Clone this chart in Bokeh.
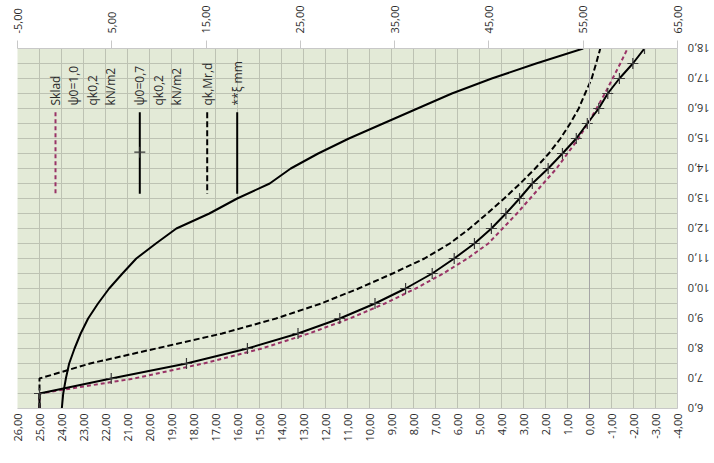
import math
from bokeh.plotting import figure
from bokeh.models import Range1d, LinearAxis, FixedTicker, ColumnDataSource, Span
from bokeh.core.properties import value
from bokeh.embed import file_html
from bokeh.resources import INLINE

# Span [m] along the vertical direction
span_m = [6.0, 6.5, 7.0, 7.5, 8.0, 8.5, 9.0, 9.5, 10.0, 10.5, 11.0, 11.5, 12.0,
          12.5, 13.0, 13.5, 14.0, 14.5, 15.0, 15.5, 16.0, 16.5, 17.0, 17.5, 18.0]

# Sklad psi0=1,0  qk0,2 kN/m2  (lower axis)
sklad_psi10 = [25.0, 25.0, 20.7, 17.55, 14.9, 12.75, 10.9, 9.3, 7.9, 6.65, 5.55,
               4.6, 3.95, 3.3, 2.7, 2.1, 1.5, 1.0, 0.5, 0.08, -0.32, -0.7, -1.05,
               -1.4, -1.73]

# psi0=0,7  qk0,2 kN/m2  (lower axis)
psi07 = [25.0, 25.0, 21.74, 18.32, 15.55, 13.25, 11.35, 9.75, 8.36, 7.15, 6.15,
         5.23, 4.46, 3.80, 3.18, 2.60, 1.88, 1.23, 0.60, 0.10, -0.42, -0.83, -1.36,
         -1.97, -2.50]

# qk,Mr,d  (lower axis)
qk_mrd = [25.0, 25.0, 25.0, 22.7, 19.7, 16.7, 14.25, 12.2, 10.5, 8.95, 7.5, 6.35,
          5.45, 4.65, 3.88, 3.15, 2.47, 1.85, 1.32, 0.88, 0.49, 0.2, -0.1, -0.3,
          -0.49]

# **xi mm  (upper axis)
xi_mm = [-0.3, -0.15, 0.13, 0.48, 1.05, 1.7, 2.49, 3.54, 4.72, 6.13, 7.6, 9.68,
         11.85, 15.35, 18.3, 21.75, 23.98, 26.89, 30.15, 33.78, 37.42, 41.07,
         45.3, 50.0, 55.0]

bottom_ticks = list(range(26, -5, -1))
top_ticks = list(range(-5, 66, 10))
span_ticks = list(range(6, 19))
grid_rows = [6 + 0.5 * i for i in range(25)]

legend_entries = [
    ["Sklad", "\u03c80=1,0", "qk0,2", "kN/m2"],
    ["\u03c80=0,7", "qk0,2", "kN/m2"],
    ["qk,Mr,d"],
    ["**\u03be mm"],
]


def dec(v, d):
    return f"{v:.{d}f}".replace(".", ",")


FONT = "Open Sans"
TXT = "#2b2b2b"
MAROON = "#993366"

# frame geometry (pixels)
LEFT, TOP, BOTTOM_B, RIGHT = 17, 48, 55, 37
FRAME_W, FRAME_H = 660, 360

X0, X1 = 26, -4
Y0, Y1 = 6, 18
p = figure(frame_width=FRAME_W, frame_height=FRAME_H, output_backend="svg",
           toolbar_location=None,
           x_range=Range1d(X0, X1), y_range=Range1d(Y0, Y1),
           x_axis_location="below", y_axis_location="right",
           min_border_left=LEFT, min_border_right=RIGHT, min_border_top=TOP,
           min_border_bottom=BOTTOM_B, background_fill_color="#E3EAD7",
           border_fill_color="white", outline_line_color=None)

# grid
p.xgrid.ticker = FixedTicker(ticks=bottom_ticks)
p.ygrid.ticker = FixedTicker(ticks=grid_rows)
for g in (p.xgrid, p.ygrid):
    g.grid_line_color = "#BDC2B3"
    g.grid_line_width = 1

# lower axis
bottom = p.below[0]
bottom.ticker = FixedTicker(ticks=bottom_ticks)
bottom.major_label_overrides = {t: dec(t, 2) for t in bottom_ticks}
bottom.major_label_orientation = math.pi / 2
bottom.major_tick_out = 0
bottom.major_tick_in = 0
bottom.minor_tick_out = 0
bottom.minor_tick_in = 0
bottom.major_label_standoff = 5
bottom.axis_line_color = "#C8C8C8"
bottom.major_label_text_font = FONT
bottom.major_label_text_font_size = "11px"
bottom.major_label_text_color = TXT

# upper axis
p.extra_x_ranges = {"top": Range1d(-5, 65)}
top = LinearAxis(x_range_name="top", ticker=FixedTicker(ticks=top_ticks),
                 major_label_overrides={t: dec(t, 2) for t in top_ticks},
                 major_label_orientation=math.pi / 2,
                 major_tick_out=8, major_tick_in=0, minor_tick_out=0,
                 minor_tick_in=0, major_label_standoff=7,
                 axis_line_color="#C8C8C8", major_tick_line_color="#C8C8C8",
                 major_label_text_font=FONT, major_label_text_font_size="11px",
                 major_label_text_color=TXT)
p.add_layout(top, "above")

# span axis on the right, labels turned upside down; single-digit labels get a
# figure space so every label ends at the same place next to the frame
right = p.right[0]
right.ticker = FixedTicker(ticks=span_ticks)
right.major_label_overrides = {
    t: ("\u2007" if t < 10 else "") + dec(t, 1) for t in span_ticks}
right.major_label_orientation = math.pi
right.major_tick_out = 0
right.major_tick_in = 0
right.minor_tick_out = 0
right.minor_tick_in = 0
right.major_label_standoff = 32
right.axis_line_color = "#C8C8C8"
right.major_label_text_font = FONT
right.major_label_text_font_size = "11px"
right.major_label_text_color = TXT

# zero line of the lower axis
p.add_layout(Span(location=0, dimension="height", line_color="#A6A6A6",
                  line_width=1))

src = ColumnDataSource(dict(span=span_m, sklad=sklad_psi10, psi07=psi07,
                            qk=qk_mrd, xi=xi_mm))

p.line("sklad", "span", source=src, line_color=MAROON, line_width=2,
       line_dash="4 3")
p.line("qk", "span", source=src, line_color="black", line_width=2,
       line_dash="6 3")
p.line("xi", "span", source=src, x_range_name="top", line_color="black",
       line_width=2)
p.line("psi07", "span", source=src, line_color="black", line_width=2)
p.scatter("psi07", "span", source=src, marker="cross", size=11,
          line_color="#3a3a3a", line_width=1.2)


# legend, laid out in frame pixels converted to data units
def bx(px):
    return X0 + (X1 - X0) * (px - LEFT) / FRAME_W


def sy(py):
    return Y1 - (py - TOP) * (Y1 - Y0) / FRAME_H


legend_px = [55, 139.3, 206.7, 236.7]
styles = [dict(line_color=MAROON, line_dash="4 3"),
          dict(line_color="black"),
          dict(line_color="black", line_dash="6 3"),
          dict(line_color="black")]
tx, ty, tt = [], [], []
for px, lines, st in zip(legend_px, legend_entries, styles):
    p.line([bx(px), bx(px)], [sy(111.7), sy(193.3)], line_width=2, **st)
    for i, s in enumerate(lines):
        tx.append(bx(px + i * 18.3))
        ty.append(sy(105))
        tt.append(s)
p.scatter([bx(legend_px[1])], [sy(151.7)], marker="cross", size=11,
          line_color="#3a3a3a", line_width=1.2)
p.text(tx, ty, text=tt, angle=math.pi / 2, text_align="left",
       text_baseline="middle", text_font=value(FONT), text_font_size="12px",
       text_color=TXT)

html = file_html(p, INLINE)
# the blank strip past the right-hand labels is simply cut by the window
html = html.replace("<head>", "<head><style>html,body{margin:0;overflow:hidden}</style>", 1)
open("out.html", "w").write(html)
